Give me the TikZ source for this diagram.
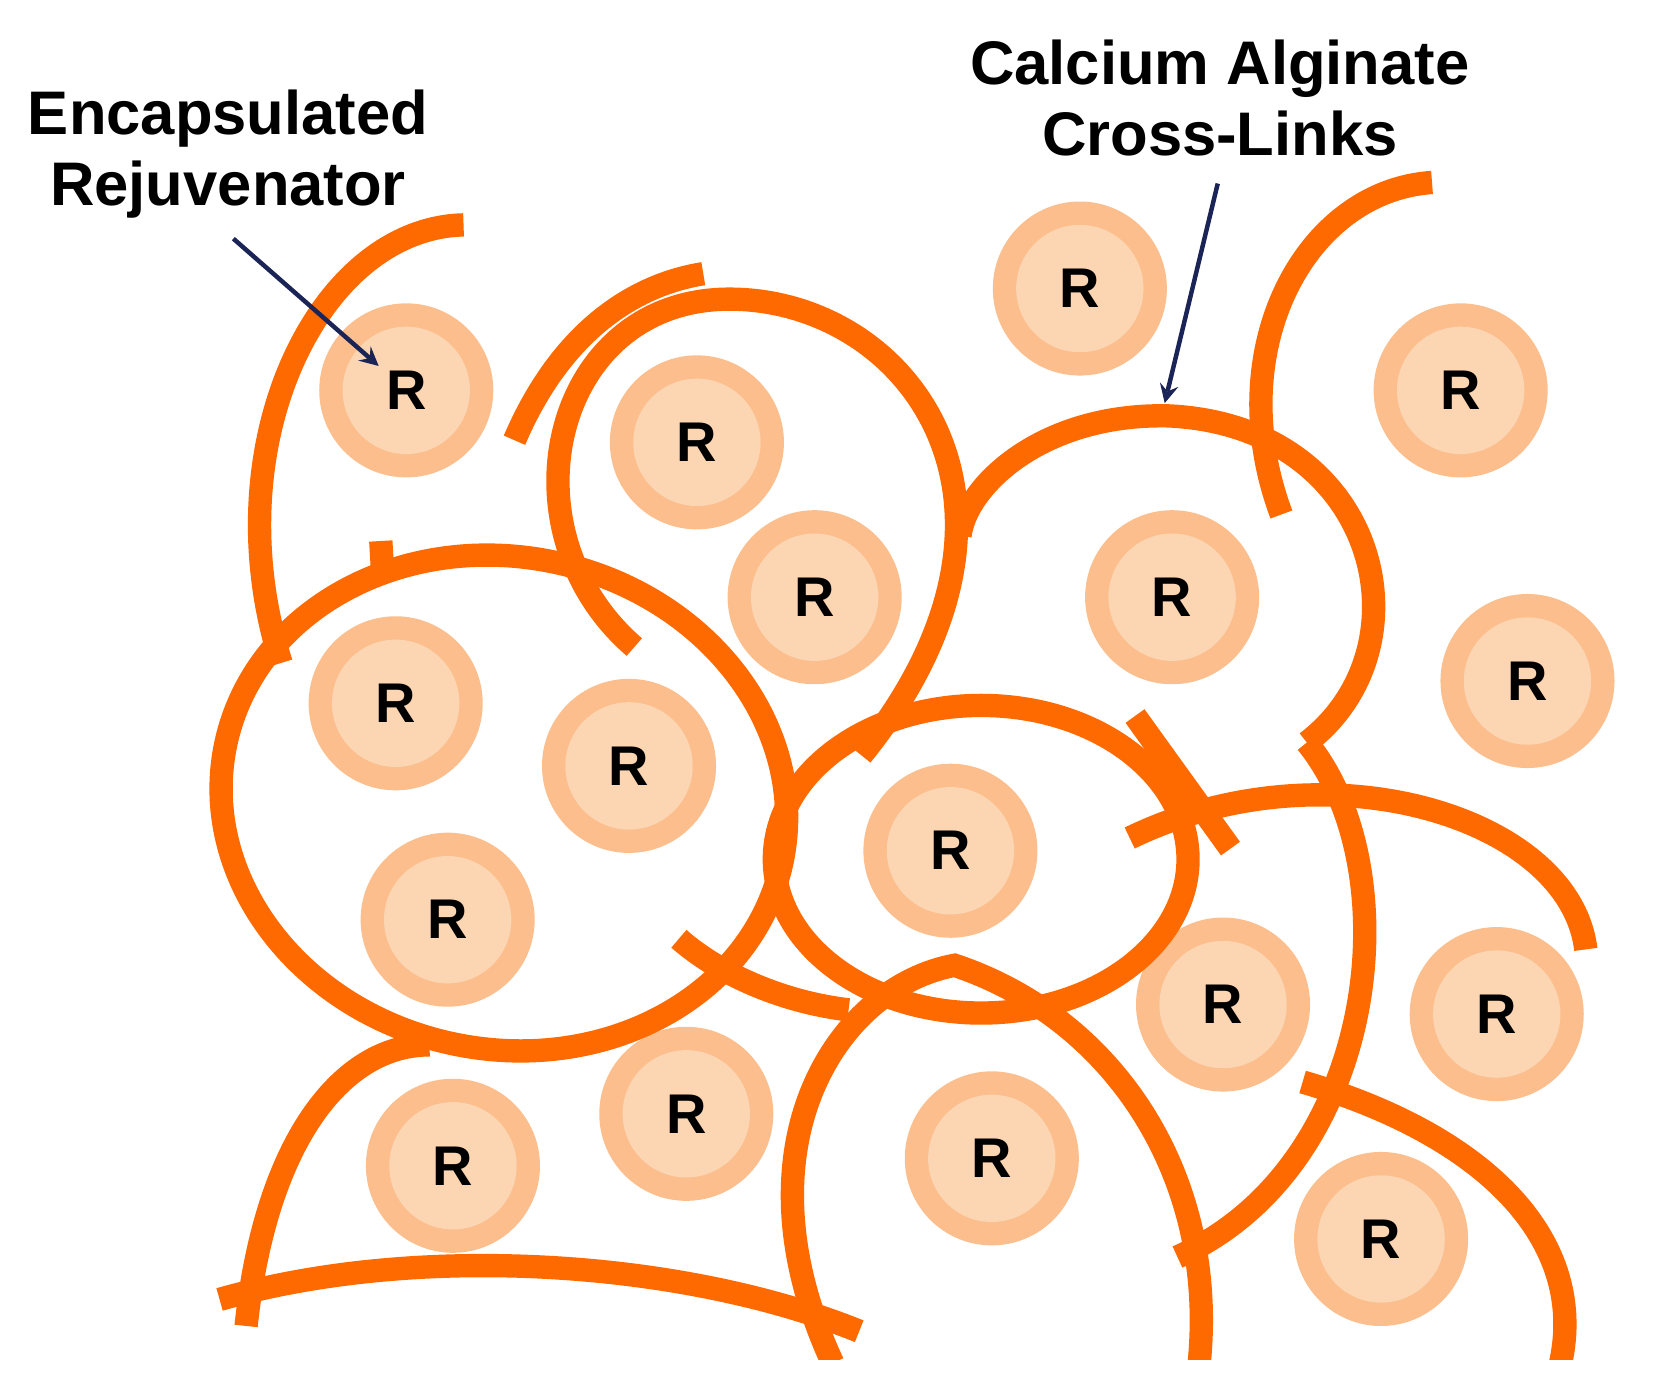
\documentclass[tikz,border=0pt]{standalone}
\usepackage{fontspec}
\setmainfont{Liberation Sans}
\begin{document}
\begin{tikzpicture}[x=0.01cm,y=-0.01cm,
 gel/.style={draw=orange1,line width=0.22cm},
 rej/.style={circle,minimum size=1.64cm,fill=ringc,draw=none,inner sep=0pt,
   path picture={\fill[innerc] (path picture bounding box.center) circle (0.6cm);},
   font=\fontsize{15}{15}\bfseries},
 lbl/.style={align=center,font=\fontsize{16.5}{19}\bfseries},
 arr/.style={draw=navyc,line width=1.2pt,-stealth}]
\definecolor{orange1}{HTML}{FF6A00}
\definecolor{ringc}{HTML}{FBBE8C}
\definecolor{innerc}{HTML}{FCD5B2}
\definecolor{navyc}{HTML}{1A2456}
\useasboundingbox (0,0) rectangle (1564,1314);
\foreach \n/\x/\y in {a/383/368,b/1018/272,c/1377/368,d/657/417,e/768/563,f/1105/563,g/1440/642,h/373/663,i/593/722,j/422/867,k/896/802,l/1153/947,m/1411/956,n/647/1050,o/427/1099,p/935/1092,q/1302/1168}
  \node[rej] (\n) at (\x,\y) {R};
\begin{scope}
\clip (0,0) rectangle (1564,1282);
\draw[gel] (437,212) .. controls (300,215) and (200,420) .. (265,625);
\draw[gel] (598,610) .. controls (470,500) and (520,280) .. (690,282) .. controls (860,284) and (1000,480) .. (812,712);
\draw[gel] (485,415) .. controls (530,310) and (600,268) .. (663,258);
\draw[gel,rotate around={-12:(475,757)}] (475,757) ellipse (268 and 232);
\draw[gel] (359,510) -- (361,545);
\draw[gel] (1232,700) .. controls (1350,610) and (1300,400) .. (1100,392) .. controls (980,390) and (910,460) .. (905,505);
\draw[gel] (1350,172) .. controls (1230,180) and (1150,330) .. (1208,485);
\draw[gel] (925,810) ellipse (195 and 145);
\draw[gel] (640,885) .. controls (680,920) and (740,945) .. (800,952);
\draw[gel] (1065,790) .. controls (1250,700) and (1480,770) .. (1495,895);
\draw[gel] (1232,700) .. controls (1330,820) and (1300,1100) .. (1110,1185);
\draw[gel] (1070,675) -- (1160,800);
\draw[gel] (785,1285) .. controls (690,1080) and (790,930) .. (900,910) .. controls (1050,960) and (1150,1110) .. (1130,1290);
\draw[gel] (232,1250) .. controls (250,1080) and (320,985) .. (405,985);
\draw[gel] (207,1225) .. controls (400,1170) and (650,1190) .. (810,1255);
\draw[gel] (1228,1020) .. controls (1400,1070) and (1500,1170) .. (1470,1290);
\end{scope}
\node[lbl] (t1) at (215,145) {Encapsulated\\Rejuvenator};
\node[lbl] (t2) at (1150,92) {Calcium Alginate\\Cross-Links};
\coordinate (a1) at (220,225);
\coordinate (a2) at (1148,173);
\draw[arr] (a1) -- (357,345);
\draw[arr] (a2) -- (1098,380);
\end{tikzpicture}
\end{document}
